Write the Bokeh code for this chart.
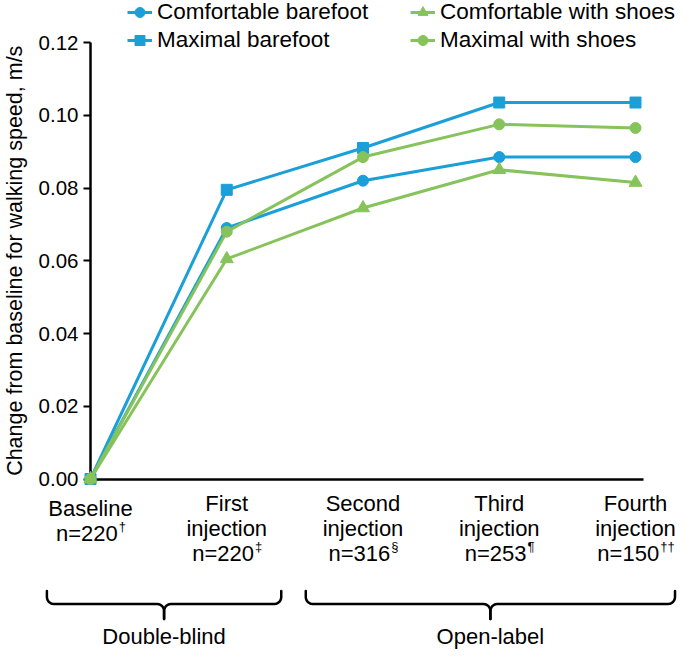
import math
from bokeh.plotting import figure
from bokeh.models import (LinearAxis, FixedTicker, NumeralTickFormatter, Legend,
                          LegendItem, ColumnDataSource, Range1d)
from bokeh.core.properties import value
from bokeh.embed import file_html
from bokeh.resources import INLINE

# ---------------- data ----------------
categories = ["Baseline", "First injection", "Second injection",
              "Third injection", "Fourth injection"]
category_lines = [["Baseline"], ["First", "injection"], ["Second", "injection"],
                  ["Third", "injection"], ["Fourth", "injection"]]
n_labels = ["n=220", "n=220", "n=316", "n=253", "n=150"]
n_marks = ["\u2020", "\u2021", "\u00a7", "\u00b6", "\u2020\u2020"]

comfortable_barefoot = [0.0, 0.069, 0.082, 0.0885, 0.0885]
maximal_barefoot = [0.0, 0.0795, 0.091, 0.1035, 0.1035]
comfortable_shoes = [0.0, 0.0605, 0.0745, 0.085, 0.0815]
maximal_shoes = [0.0, 0.068, 0.0885, 0.0975, 0.0965]

series_names = ["Comfortable barefoot", "Maximal barefoot",
                "Comfortable with shoes", "Maximal with shoes"]

y_ticks = [0.00, 0.02, 0.04, 0.06, 0.08, 0.10, 0.12]
y_title = "Change from baseline for walking speed, m/s"

phase_names = ["Double-blind", "Open-label"]
phase_first = [0, 2]
phase_last = [1, 4]

# ---------------- layout / style ----------------
W, H = 677, 650
AX_X = 90.0          # canvas px of the first category (y axis)
STEP = 136.25        # px between categories
AX_Y = 478.5         # canvas px of y = 0
PPU = (478.5 - 42.0) / 0.12   # px per data unit (y)
FONT = "Liberation Sans"
BLUE = "#1a9fd9"
GREEN = "#86c35a"

x_start = -AX_X / STEP
x_end = (W - AX_X) / STEP
y_start = -(H - AX_Y) / PPU
y_end = AX_Y / PPU

p = figure(width=W, height=H, x_range=Range1d(x_start, x_end),
           y_range=Range1d(y_start, y_end), output_backend="svg",
           toolbar_location=None, x_axis_location=None, y_axis_location=None,
           min_border=0, min_border_left=0, min_border_right=0,
           min_border_top=0, min_border_bottom=0)
for g in p.grid:
    g.visible = False
p.outline_line_color = None
p.background_fill_color = "white"
p.border_fill_color = "white"

# y axis (drawn at the first category)
yaxis = LinearAxis(fixed_location=0, bounds=(y_ticks[0], y_ticks[-1]),
                   ticker=FixedTicker(ticks=y_ticks),
                   formatter=NumeralTickFormatter(format="0.00"),
                   major_tick_out=7, major_tick_in=0,
                   minor_tick_out=0, minor_tick_in=0,
                   axis_line_width=2.5, axis_line_color="black",
                   major_tick_line_width=2, major_tick_line_color="black",
                   major_label_text_font=FONT, major_label_text_font_size="20.5px",
                   major_label_text_color="black", major_label_standoff=5,
                   level="underlay")
p.add_layout(yaxis, "left")

# x axis line at y = 0
xaxis = LinearAxis(fixed_location=0, bounds=(0, 4.06),
                   ticker=FixedTicker(ticks=[]),
                   major_tick_out=0, major_tick_in=0,
                   minor_tick_out=0, minor_tick_in=0,
                   major_label_text_font_size="0px",
                   axis_line_width=2.5, axis_line_color="black",
                   level="underlay")
p.add_layout(xaxis, "below")

# y axis title
p.text(x=[(14 - AX_X) / STEP], y=[(y_ticks[0] + y_ticks[-1]) / 2], text=[y_title],
       angle=math.pi / 2, text_align="center", text_baseline="middle",
       text_font=value(FONT), text_font_size=value("21.5px"), text_color="black")

# series
xs = list(range(len(categories)))
specs = [
    (comfortable_barefoot, BLUE, "circle", 11),
    (maximal_barefoot, BLUE, "square", 11),
    (comfortable_shoes, GREEN, "triangle", 13),
    (maximal_shoes, GREEN, "circle", 11),
]
items = []
for name, (vals, col, marker, size) in zip(series_names, specs):
    src = ColumnDataSource(dict(x=xs, y=vals))
    lr = p.line("x", "y", source=src, line_color=col, line_width=3)
    sr = p.scatter("x", "y", source=src, marker=marker, size=size,
                   fill_color=col, line_color=col)
    items.append(LegendItem(label=value(name), renderers=[lr, sr]))

ITEM_H = 26
SPACING = 2
leg_kw = dict(glyph_width=25, glyph_height=ITEM_H, label_height=ITEM_H,
              label_standoff=5, spacing=SPACING, padding=0, margin=0,
              border_line_color=None, background_fill_alpha=0,
              label_text_font=FONT, label_text_font_size="22.5px",
              label_text_color="black", orientation="vertical")
leg_h = 2 * ITEM_H + SPACING
leg_top = -1
vy = H - leg_top - leg_h
leg1 = Legend(items=items[:2], location=(127, vy), **leg_kw)
leg2 = Legend(items=items[2:], location=(410, vy), **leg_kw)
p.add_layout(leg1)
p.add_layout(leg2)

# category labels below the axis
LINE_STEP = 25
CAT_FS = 22
cx, cy, ct, cxo, cyo = [], [], [], [], []
nx, ny, nt, nxo, nyo = [], [], [], [], []
sx, sy, st, sxo, syo = [], [], [], [], []
digit_w = 0.556
for i, lines in enumerate(category_lines):
    start = 29 if len(lines) == 1 else 24
    for j, t in enumerate(lines):
        cx.append(i); cy.append(0); ct.append(t)
        cxo.append(0); cyo.append(start + j * LINE_STEP)
    # width estimates (Arial metrics) to centre "n=xxx" + superscript
    main_w = sum(0.584 if ch == "=" else digit_w for ch in n_labels[i]) * CAT_FS
    sup_w = len(n_marks[i]) * 0.556 * 13
    anchor = (main_w - sup_w) / 2
    row = start + len(lines) * LINE_STEP
    nx.append(i); ny.append(0); nt.append(n_labels[i]); nxo.append(anchor); nyo.append(row)
    sx.append(i); sy.append(0); st.append(n_marks[i]); sxo.append(anchor + 1); syo.append(row - 7)

p.text(x="x", y="y", text="t", x_offset="xo", y_offset="yo",
       source=ColumnDataSource(dict(x=cx, y=cy, t=ct, xo=cxo, yo=cyo)),
       text_align="center", text_baseline="middle", text_font=value(FONT),
       text_font_size=value(f"{CAT_FS}px"), text_color="black")
p.text(x="x", y="y", text="t", x_offset="xo", y_offset="yo",
       source=ColumnDataSource(dict(x=nx, y=ny, t=nt, xo=nxo, yo=nyo)),
       text_align="right", text_baseline="middle", text_font=value(FONT),
       text_font_size=value(f"{CAT_FS}px"), text_color="black")
p.text(x="x", y="y", text="t", x_offset="xo", y_offset="yo",
       source=ColumnDataSource(dict(x=sx, y=sy, t=st, xo=sxo, yo=syo)),
       text_align="left", text_baseline="middle", text_font=value(FONT),
       text_font_size=value("13px"), text_color="black")

# braces for study phases
pad_left = [0.32, 0.42]
pad_right = [0.40, 0.29]
TOP, MID, TIP, R = 112, 125, 140, 7
gx, gt = [], []
bx, by = [], []
for k, nm in enumerate(phase_names):
    x0 = phase_first[k] - pad_left[k]
    x1 = phase_last[k] + pad_right[k]
    xc = (x0 + x1) / 2
    rx = R / STEP
    pts = [(x0, TOP), (x0, MID - R)]
    for a in range(1, 7):
        t = math.radians(a * 15)
        pts.append((x0 + rx - rx * math.cos(t), MID - R + R * math.sin(t)))
    pts.append((xc - rx, MID))
    for a in range(1, 7):
        t = math.radians(a * 15)
        pts.append((xc - rx + rx * math.sin(t), MID + R - R * math.cos(t)))
    pts.append((xc, TIP))
    left = pts
    right = [(2 * xc - px, py) for px, py in pts]
    for half in (left, right):
        bx.append([q[0] for q in half])
        by.append([-q[1] / PPU for q in half])
    gx.append(xc); gt.append(nm)

p.multi_line(xs=bx, ys=by, line_color="black", line_width=2.5, line_join="round",
             line_cap="round")
p.text(x=gx, y=[0] * len(gx), text=gt, y_offset=157.5, text_align="center",
       text_baseline="middle", text_font=value(FONT), text_font_size=value("22px"),
       text_color="black")

open("out.html", "w").write(file_html(p, INLINE))
